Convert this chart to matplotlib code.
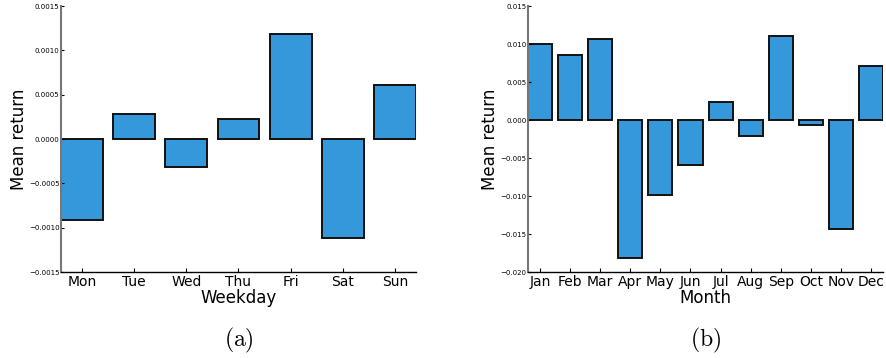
import matplotlib
matplotlib.use("Agg")
import matplotlib.pyplot as plt
import numpy as np

weekdays = ["Mon", "Tue", "Wed", "Thu", "Fri", "Sat", "Sun"]
weekday_ret = [-0.00091, 0.00028, -0.00031, 0.00023, 0.00118, -0.00112, 0.00061]

months = ["Jan", "Feb", "Mar", "Apr", "May", "Jun", "Jul", "Aug", "Sep", "Oct", "Nov", "Dec"]
month_ret = [0.0100, 0.0086, 0.0107, -0.0181, -0.0099, -0.0059, 0.0024, -0.0021,
             0.0111, -0.0007, -0.0143, 0.0071]

plt.rcParams['mathtext.fontset'] = 'cm'

fig = plt.figure(figsize=(8.86, 3.58), dpi=100)
ax1 = fig.add_axes([0.0688, 0.2402, 0.4007, 0.7428])
ax2 = fig.add_axes([0.596, 0.2402, 0.4006, 0.7428])


def style(ax, names, vals, ylim, yticks, fmt, xlabel):
    x = np.arange(len(names))
    ax.bar(x, vals, width=0.8, color='#3498db', edgecolor='#111111', linewidth=1.4)
    ax.set_xlim(-0.4, len(names) - 0.6)
    ax.set_ylim(*ylim)
    ax.set_xticks(x)
    ax.set_xticklabels(names, fontsize=10)
    ax.set_yticks(yticks)
    ax.set_yticklabels([fmt.format(t).replace('-', '\u2212') for t in yticks], fontsize=5)
    ax.tick_params(axis='y', direction='in', length=2, width=0.8, pad=1)
    ax.tick_params(axis='x', direction='in', length=3, width=0.8, pad=2)
    ax.spines['top'].set_visible(False)
    ax.spines['right'].set_visible(False)
    ax.spines['left'].set_color('#777777')
    ax.spines['left'].set_linewidth(1.5)
    ax.spines['bottom'].set_color('black')
    ax.spines['bottom'].set_linewidth(1.0)
    ax.set_xlabel(xlabel, fontsize=12, labelpad=0)
    ax.set_ylabel("Mean return", fontsize=12, labelpad=1)


style(ax1, weekdays, weekday_ret, (-0.0015, 0.0015),
      [-0.0015, -0.0010, -0.0005, 0.0, 0.0005, 0.0010, 0.0015], "{:.4f}", "Weekday")
style(ax2, months, month_ret, (-0.020, 0.015),
      [-0.020, -0.015, -0.010, -0.005, 0.0, 0.005, 0.010, 0.015], "{:.3f}", "Month")

fig.text(0.2692, 0.05, r'$\mathrm{(a)}$', ha='center', va='center', fontsize=17)
fig.text(0.7963, 0.05, r'$\mathrm{(b)}$', ha='center', va='center', fontsize=17)

fig.savefig("out.png", dpi=100)
